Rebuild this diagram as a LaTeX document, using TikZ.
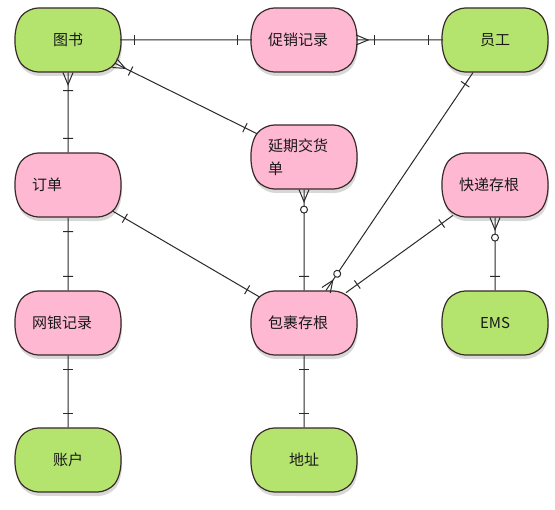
\documentclass[tikz,border=0pt]{standalone}
\usepackage{fontspec}
\setmainfont{Noto Sans CJK SC}
\usetikzlibrary{shapes.misc,shadows,decorations.markings}
\definecolor{entitygreen}{HTML}{B4E46E}
\definecolor{entitypink}{HTML}{FFB8D2}
\definecolor{edgeline}{HTML}{2A2A2A}
\definecolor{borderline}{HTML}{3A2A2A}

\tikzset{
  entity/.style={rounded rectangle,rounded rectangle arc length=80,rounded corners=10pt,
    draw=borderline,line width=1.2pt,minimum width=107pt,minimum height=64pt,inner sep=2pt,
    text width=72pt,align=left,font=\fontsize{15}{23}\selectfont,text=black!90,
    drop shadow={shadow xshift=1pt,shadow yshift=-4pt,opacity=0.3}},
  strong/.style={entity,fill=entitygreen,align=center},
  weak/.style={entity,fill=entitypink},
  link/.style={draw=edgeline,line width=1pt},
  bar/.style={draw=edgeline,line width=1pt},
  one start/.style={postaction={decorate,decoration={markings,
    mark=at position 14pt with {\draw[bar] (0,-5pt) -- (0,5pt);}}}},
  one end/.style={postaction={decorate,decoration={markings,
    mark=at position -14pt with {\draw[bar] (0,-5pt) -- (0,5pt);}}}},
  many start/.style={postaction={decorate,decoration={markings,
    mark=at position 0pt with {\draw[bar] (0,5pt) -- (12pt,0) -- (0,-5pt);},
    mark=at position 18pt with {\draw[bar] (0,-5pt) -- (0,5pt);}}}},
  zmany start/.style={postaction={decorate,decoration={markings,
    mark=at position 0pt with {\draw[bar] (0,5pt) -- (12pt,0) -- (0,-5pt);},
    mark=at position 20pt with {\draw[bar,fill=white] (0,0) circle (3.5pt);}}}},
  zmany end/.style={postaction={decorate,decoration={markings,
    mark=at position -0.1pt with {\draw[bar] (0,5pt) -- (-12pt,0) -- (0,-5pt);},
    mark=at position -20pt with {\draw[bar,fill=white] (0,0) circle (3.5pt);}}}}
}

\begin{document}
\begin{tikzpicture}[x=1pt,y=-1pt]
  \useasboundingbox[fill=white] (0,0) rectangle (555,510);

  % entities
  \node[strong] (book) at (68,40) {图书};
  \node[weak] (promo) at (304,40) {促销记录};
  \node[strong] (staff) at (495,40) {员工};
  \node[weak] (delay) at (304,157) {延期交货\\单};
  \node[weak] (order) at (68,185) {订单};
  \node[weak] (express) at (495,185) {快递存根};
  \node[weak] (bank) at (68,323) {网银记录};
  \node[weak] (parcel) at (304,323) {包裹存根};
  \node[strong] (ems) at (495,323) {EMS};
  \node[strong] (account) at (68,460) {账户};
  \node[strong] (address) at (304,460) {地址};

  % relationships
  \draw[link,one start,one end] (book) -- (promo);
  \draw[link,many start,one end] (promo) -- (staff);
  \draw[link,many start,one end] (book) -- (order);
  \draw[link,many start,one end] (book) -- (delay);
  \draw[link,one start,zmany end] (staff) -- (parcel);
  \draw[link,zmany start,one end] (delay) -- (parcel);
  \draw[link,one start,one end] (order) -- (parcel);
  \draw[link,one start,one end] (express) -- (parcel);
  \draw[link,zmany start,one end] (express) -- (ems);
  \draw[link,one start,one end] (order) -- (bank);
  \draw[link,one start,one end] (bank) -- (account);
  \draw[link,one start,one end] (parcel) -- (address);
\end{tikzpicture}
\end{document}
